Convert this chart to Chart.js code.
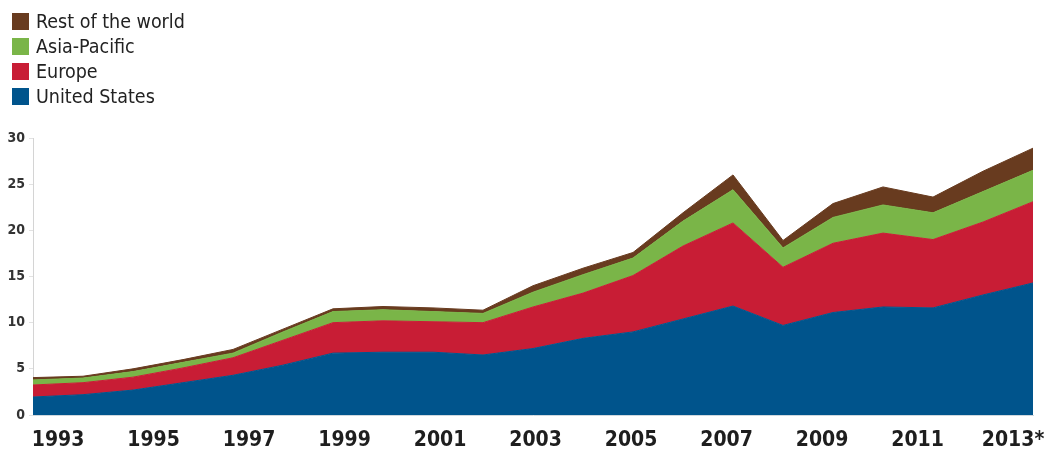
<!DOCTYPE html>
<html>
<head>
<meta charset="utf-8">
<script src="https://cdn.jsdelivr.net/npm/chart.js@4.4.1/dist/chart.umd.min.js"></script>
<style>
  body { margin: 0; background: #fff; }
  #wrap { position: relative; width: 1054px; height: 461px; }
  #legend { position: absolute; left: 12px; top: 9px; font-family: "Liberation Sans Narrow", "DejaVu Sans Condensed", sans-serif; font-size: 19.5px; color: #222; }
  .item { display: flex; align-items: center; height: 25px; }
  .box { width: 17px; height: 17px; margin-right: 7px; }
</style>
</head>
<body>
<div id="wrap">
  <canvas id="grafico"></canvas>
  <div id="legend"></div>
</div>
<script>
const years = [1993, 1994, 1995, 1996, 1997, 1998, 1999, 2000, 2001, 2002, 2003,
               2004, 2005, 2006, 2007, 2008, 2009, 2010, 2011, 2012, 2013];
const unitedStates = [1.95, 2.2, 2.7, 3.5, 4.3, 5.4, 6.7, 6.8, 6.8, 6.5, 7.2,
                      8.3, 9.0, 10.4, 11.8, 9.7, 11.1, 11.7, 11.6, 13.0, 14.3];
const europe = [1.3, 1.3, 1.4, 1.6, 1.9, 2.7, 3.3, 3.4, 3.3, 3.5, 4.5,
                4.9, 6.1, 7.9, 9.0, 6.3, 7.5, 8.0, 7.4, 7.9, 8.8];
const asiaPacific = [0.55, 0.5, 0.6, 0.6, 0.5, 0.9, 1.2, 1.2, 1.1, 1.0, 1.6,
                     2.0, 1.9, 2.7, 3.6, 2.1, 2.8, 3.05, 2.9, 3.3, 3.4];
const restOfWorld = [0.25, 0.2, 0.3, 0.3, 0.4, 0.3, 0.3, 0.35, 0.4, 0.35, 0.7,
                     0.7, 0.6, 0.9, 1.6, 0.8, 1.5, 1.95, 1.7, 2.2, 2.4];

const tickYears = [1993, 1995, 1997, 1999, 2001, 2003, 2005, 2007, 2009, 2011, 2013];
const tickLabels = ['1993', '1995', '1997', '1999', '2001', '2003', '2005', '2007', '2009', '2011', '2013*'];
const yTicks = [0, 5, 10, 15, 20, 25, 30];

const FONT = '"Liberation Sans Narrow", "DejaVu Sans Condensed", sans-serif';

function serie(label, valores, cor, fill) {
    return {
        label: label,
        data: years.map((ano, i) => ({ x: ano, y: valores[i] })),
        backgroundColor: cor,
        borderColor: cor,
        borderWidth: 1,
        pointRadius: 0,
        tension: 0,
        fill: fill
    };
}

const ctx = document.getElementById('grafico').getContext('2d');
const grafico = new Chart(ctx, {
    type: 'line',
    data: {
        datasets: [
            serie('United States', unitedStates, '#00548c', 'origin'),
            serie('Europe', europe, '#c81d35', '-1'),
            serie('Asia-Pacific', asiaPacific, '#7ab548', '-1'),
            serie('Rest of the world', restOfWorld, '#683b1f', '-1')
        ]
    },
    options: {
        responsive: true,
        maintainAspectRatio: false,
        animation: false,
        layout: { padding: { top: 138, right: 21, left: 0, bottom: 0 } },
        plugins: {
            legend: { display: false },
            tooltip: { enabled: false }
        },
        scales: {
            x: {
                type: 'linear',
                min: 1993,
                max: 2013,
                display: false
            },
            // eixo só para os rótulos dos anos
            anos: {
                type: 'linear',
                position: 'bottom',
                min: 1992.476,
                max: 2013.418,
                grid: { display: false },
                border: { display: true, color: '#cfd8de', width: 1 },
                afterBuildTicks: axis => { axis.ticks = tickYears.map(v => ({ value: v })); },
                afterFit: scale => { scale.height = 46; },
                ticks: {
                    autoSkip: false,
                    maxRotation: 0,
                    padding: 5,
                    color: '#1e1e1e',
                    font: { family: FONT, size: 21, weight: 'bold' },
                    callback: v => tickLabels[tickYears.indexOf(v)]
                }
            },
            y: {
                stacked: true,
                min: 0,
                max: 30,
                afterBuildTicks: axis => { axis.ticks = yTicks.map(v => ({ value: v })); },
                afterFit: scale => { scale.width = 33; },
                grid: { drawOnChartArea: false, tickLength: 4, color: '#e2e2e2' },
                border: { color: '#d4d4d4', width: 1 },
                ticks: {
                    padding: 4,
                    color: '#333',
                    font: { family: FONT, size: 14, weight: 'bold' }
                }
            }
        }
    }
});

// legenda em HTML, de cima para baixo na ordem inversa das séries
const legenda = document.getElementById('legend');
grafico.data.datasets.slice().reverse().forEach(ds => {
    const item = document.createElement('div');
    item.className = 'item';
    const box = document.createElement('span');
    box.className = 'box';
    box.style.background = ds.backgroundColor;
    const txt = document.createElement('span');
    txt.textContent = ds.label;
    item.appendChild(box);
    item.appendChild(txt);
    legenda.appendChild(item);
});
</script>
</body>
</html>
